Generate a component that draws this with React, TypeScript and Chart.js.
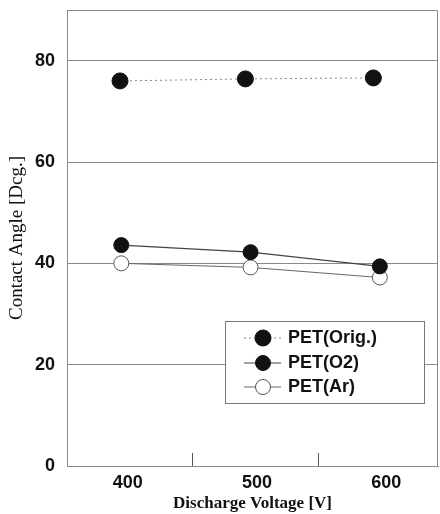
import { useEffect, useRef } from 'react';
import { Chart, registerables } from 'chart.js';

Chart.register(...registerables);

// ---- data ----
const seriesNames = ['PET(Orig.)', 'PET(O2)', 'PET(Ar)'];
const origVoltage = [394, 491, 590];
const origAngle = [76.0, 76.4, 76.6];
const o2Voltage = [395, 495, 595];
const o2Angle = [43.6, 42.2, 39.4];
const arVoltage = [395, 495, 595];
const arAngle = [40.0, 39.2, 37.2];
const xTickValues = [400, 500, 600];
const xMinorTicks = [450, 547];
const yTickStep = 20;

const SANS = "'Liberation Sans', Arial, Helvetica, sans-serif";
const SERIF = "'Liberation Serif', 'Times New Roman', serif";

const framePlugin = {
  id: 'frameAndMinorTicks',
  beforeDatasetsDraw(chart: any) {
    const { ctx, chartArea } = chart;
    const { left, top, right, bottom } = chartArea;
    ctx.save();
    ctx.strokeStyle = '#8a8a8a';
    ctx.lineWidth = 1;
    ctx.beginPath();
    ctx.moveTo(left, top + 0.5);
    ctx.lineTo(right - 0.5, top + 0.5);
    ctx.lineTo(right - 0.5, bottom);
    ctx.stroke();
    ctx.strokeStyle = '#555';
    const xs = chart.scales.x;
    xMinorTicks.forEach((v) => {
      const px = Math.round(xs.getPixelForValue(v)) + 0.5;
      ctx.beginPath();
      ctx.moveTo(px, bottom);
      ctx.lineTo(px, bottom - 13);
      ctx.stroke();
    });
    ctx.restore();
  },
};

const insetLegendPlugin = {
  id: 'insetLegend',
  afterDatasetsDraw(chart: any, _args: any, opts: any) {
    const { ctx } = chart;
    const { x, y, w, h, rowY, lineX0, lineX1, markerX, textX } = opts;
    ctx.save();
    ctx.fillStyle = '#fff';
    ctx.fillRect(x, y, w, h);
    ctx.strokeStyle = '#777';
    ctx.lineWidth = 1;
    ctx.strokeRect(x + 0.5, y + 0.5, w, h);
    chart.data.datasets.forEach((ds: any, i: number) => {
      const cy = rowY[i];
      ctx.setLineDash(ds.borderDash || []);
      ctx.strokeStyle = ds.borderColor;
      ctx.lineWidth = ds.borderWidth;
      ctx.beginPath();
      ctx.moveTo(lineX0, cy);
      ctx.lineTo(lineX1, cy);
      ctx.stroke();
      ctx.setLineDash([]);
      ctx.beginPath();
      ctx.arc(markerX, cy, ds.pointRadius, 0, Math.PI * 2);
      ctx.fillStyle = ds.pointBackgroundColor;
      ctx.fill();
      ctx.lineWidth = ds.pointBorderWidth;
      ctx.strokeStyle = ds.pointBorderColor;
      ctx.stroke();
      ctx.fillStyle = '#111';
      ctx.font = `bold 18px ${SANS}`;
      ctx.textAlign = 'left';
      ctx.textBaseline = 'middle';
      ctx.fillText(ds.label, textX, cy);
    });
    ctx.restore();
  },
};

const zeroPad = (s: any) => {
  s.paddingTop = 0;
  s.paddingBottom = 0;
  s.paddingLeft = 0;
  s.paddingRight = 0;
};

export default function App() {
  const ref = useRef<HTMLCanvasElement>(null);

  useEffect(() => {
    if (!ref.current) return;
    const toPts = (xs: number[], ys: number[]) => xs.map((v, i) => ({ x: v, y: ys[i] }));
    const chart = new Chart(ref.current, {
      type: 'line',
      data: {
        datasets: [
          {
            label: seriesNames[0],
            data: toPts(origVoltage, origAngle),
            borderColor: '#888',
            borderWidth: 1,
            borderDash: [2, 3],
            pointRadius: 8,
            pointBackgroundColor: '#111',
            pointBorderColor: '#111',
            pointBorderWidth: 1,
            showLine: true,
          },
          {
            label: seriesNames[1],
            data: toPts(o2Voltage, o2Angle),
            borderColor: '#444',
            borderWidth: 1.2,
            pointRadius: 7.5,
            pointBackgroundColor: '#111',
            pointBorderColor: '#111',
            pointBorderWidth: 1,
            showLine: true,
          },
          {
            label: seriesNames[2],
            data: toPts(arVoltage, arAngle),
            borderColor: '#666',
            borderWidth: 1,
            pointRadius: 7.5,
            pointBackgroundColor: '#fff',
            pointBorderColor: '#555',
            pointBorderWidth: 1,
            showLine: true,
          },
        ],
      },
      options: {
        responsive: false,
        animation: false,
        events: [],
        layout: { autoPadding: false, padding: { left: 0, top: 10, right: 2, bottom: 0 } },
        plugins: {
          legend: { display: false },
          tooltip: { enabled: false },
          insetLegend: {
            x: 225,
            y: 321,
            w: 199,
            h: 82,
            rowY: [338, 363, 387],
            lineX0: 244,
            lineX1: 281,
            markerX: 263,
            textX: 288,
          },
        } as any,
        scales: {
          x: {
            type: 'linear',
            min: 353,
            max: 640,
            afterFit: (s: any) => {
              s.height = 48;
              zeroPad(s);
            },
            afterBuildTicks: (s: any) => {
              s.ticks = xTickValues.map((v) => ({ value: v }));
            },
            grid: { display: false, drawTicks: false },
            border: { display: true, color: '#8a8a8a' },
            ticks: {
              padding: 6,
              color: '#111',
              font: { family: SANS, size: 18, weight: 'bold' },
              callback: (v: any) => String(v),
            },
            title: {
              display: true,
              text: 'Discharge Voltage [V]',
              color: '#111',
              font: { family: SERIF, size: 17, weight: 'bold', lineHeight: 1 },
              padding: { top: 0, bottom: 1.5 },
            },
          },
          y: {
            type: 'linear',
            min: 0,
            max: 90,
            afterFit: (s: any) => {
              s.width = 67;
              zeroPad(s);
            },
            grid: { color: '#8a8a8a', lineWidth: 1, drawTicks: false },
            border: { display: true, color: '#8a8a8a' },
            ticks: {
              stepSize: yTickStep,
              includeBounds: false,
              padding: 12,
              color: '#111',
              font: { family: SANS, size: 18, weight: 'bold' },
            },
            title: {
              display: true,
              text: 'Contact Angle [Dcg.]',
              color: '#111',
              font: { family: SERIF, size: 19, weight: 'normal', lineHeight: 1.2 },
              padding: { top: 6, bottom: 0 },
            },
          },
        },
      },
      plugins: [framePlugin, insetLegendPlugin],
    });
    return () => chart.destroy();
  }, []);

  return (
    <div style={{ position: 'absolute', left: 0, top: 0, width: 440, height: 514, background: '#fff' }}>
      <canvas ref={ref} width={440} height={514} />
    </div>
  );
}
